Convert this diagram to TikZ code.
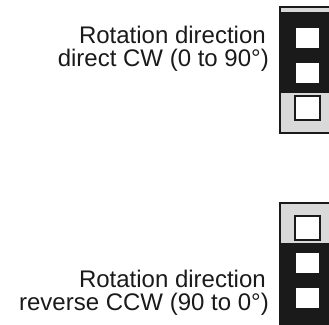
\documentclass[tikz,border=0pt]{standalone}
\usepackage{fontspec}
\setmainfont{Liberation Sans}
\usetikzlibrary{positioning}
\definecolor{ink}{HTML}{1A1A1A}
\definecolor{body}{HTML}{D9D9D9}
\tikzset{
    housing/.style = {
        draw=ink,
        fill=body,
        line width=1.5pt
    },
    jumper/.style = {
        fill=ink
    },
    pin/.style = {
        shape=rectangle,
        fill=white,
        minimum height=20pt,
        minimum width=23pt,
        inner sep=0pt
    },
    freepin/.style = {
        draw=ink,
        shape=rectangle,
        fill=white,
        minimum height=24pt,
        minimum width=25pt,
        line width=1.5pt,
        inner sep=0pt
    },
    caption/.style = {
        text=ink,
        font=\fontsize{24}{25}\selectfont,
        anchor=base east,
        inner sep=0pt
    },
}
\begin{document}
\begin{tikzpicture}[x=1pt,y=-1pt]
    \useasboundingbox (0,0) rectangle (329,324);
    % upper header, jumper on the top two pins
    \draw[housing] (280,7) rectangle (336,133);
    \fill[jumper] (280,12) rectangle (336,93);
    \node[pin] (u1) at (307.5,38) {};
    \node[pin] (u2) at (307.5,73) {};
    \node[freepin] (u3) at (307.5,108) {};
    \node[caption] (cw1) at (266,43) {Rotation direction};
    \node[caption] (cw2) at (269,66) {direct CW (0 to 90°)};

    % lower header, jumper on the bottom two pins
    \draw[housing] (280,203) rectangle (336,330);
    \fill[jumper] (280,243) rectangle (336,330);
    \node[freepin] (l1) at (307.5,228) {};
    \node[pin] (l2) at (307.5,263) {};
    \node[pin] (l3) at (307.5,298) {};
    \node[caption] (ccw1) at (266,287) {Rotation direction};
    \node[caption] (ccw2) at (269,310) {reverse CCW (90 to 0°)};
\end{tikzpicture}
\end{document}
